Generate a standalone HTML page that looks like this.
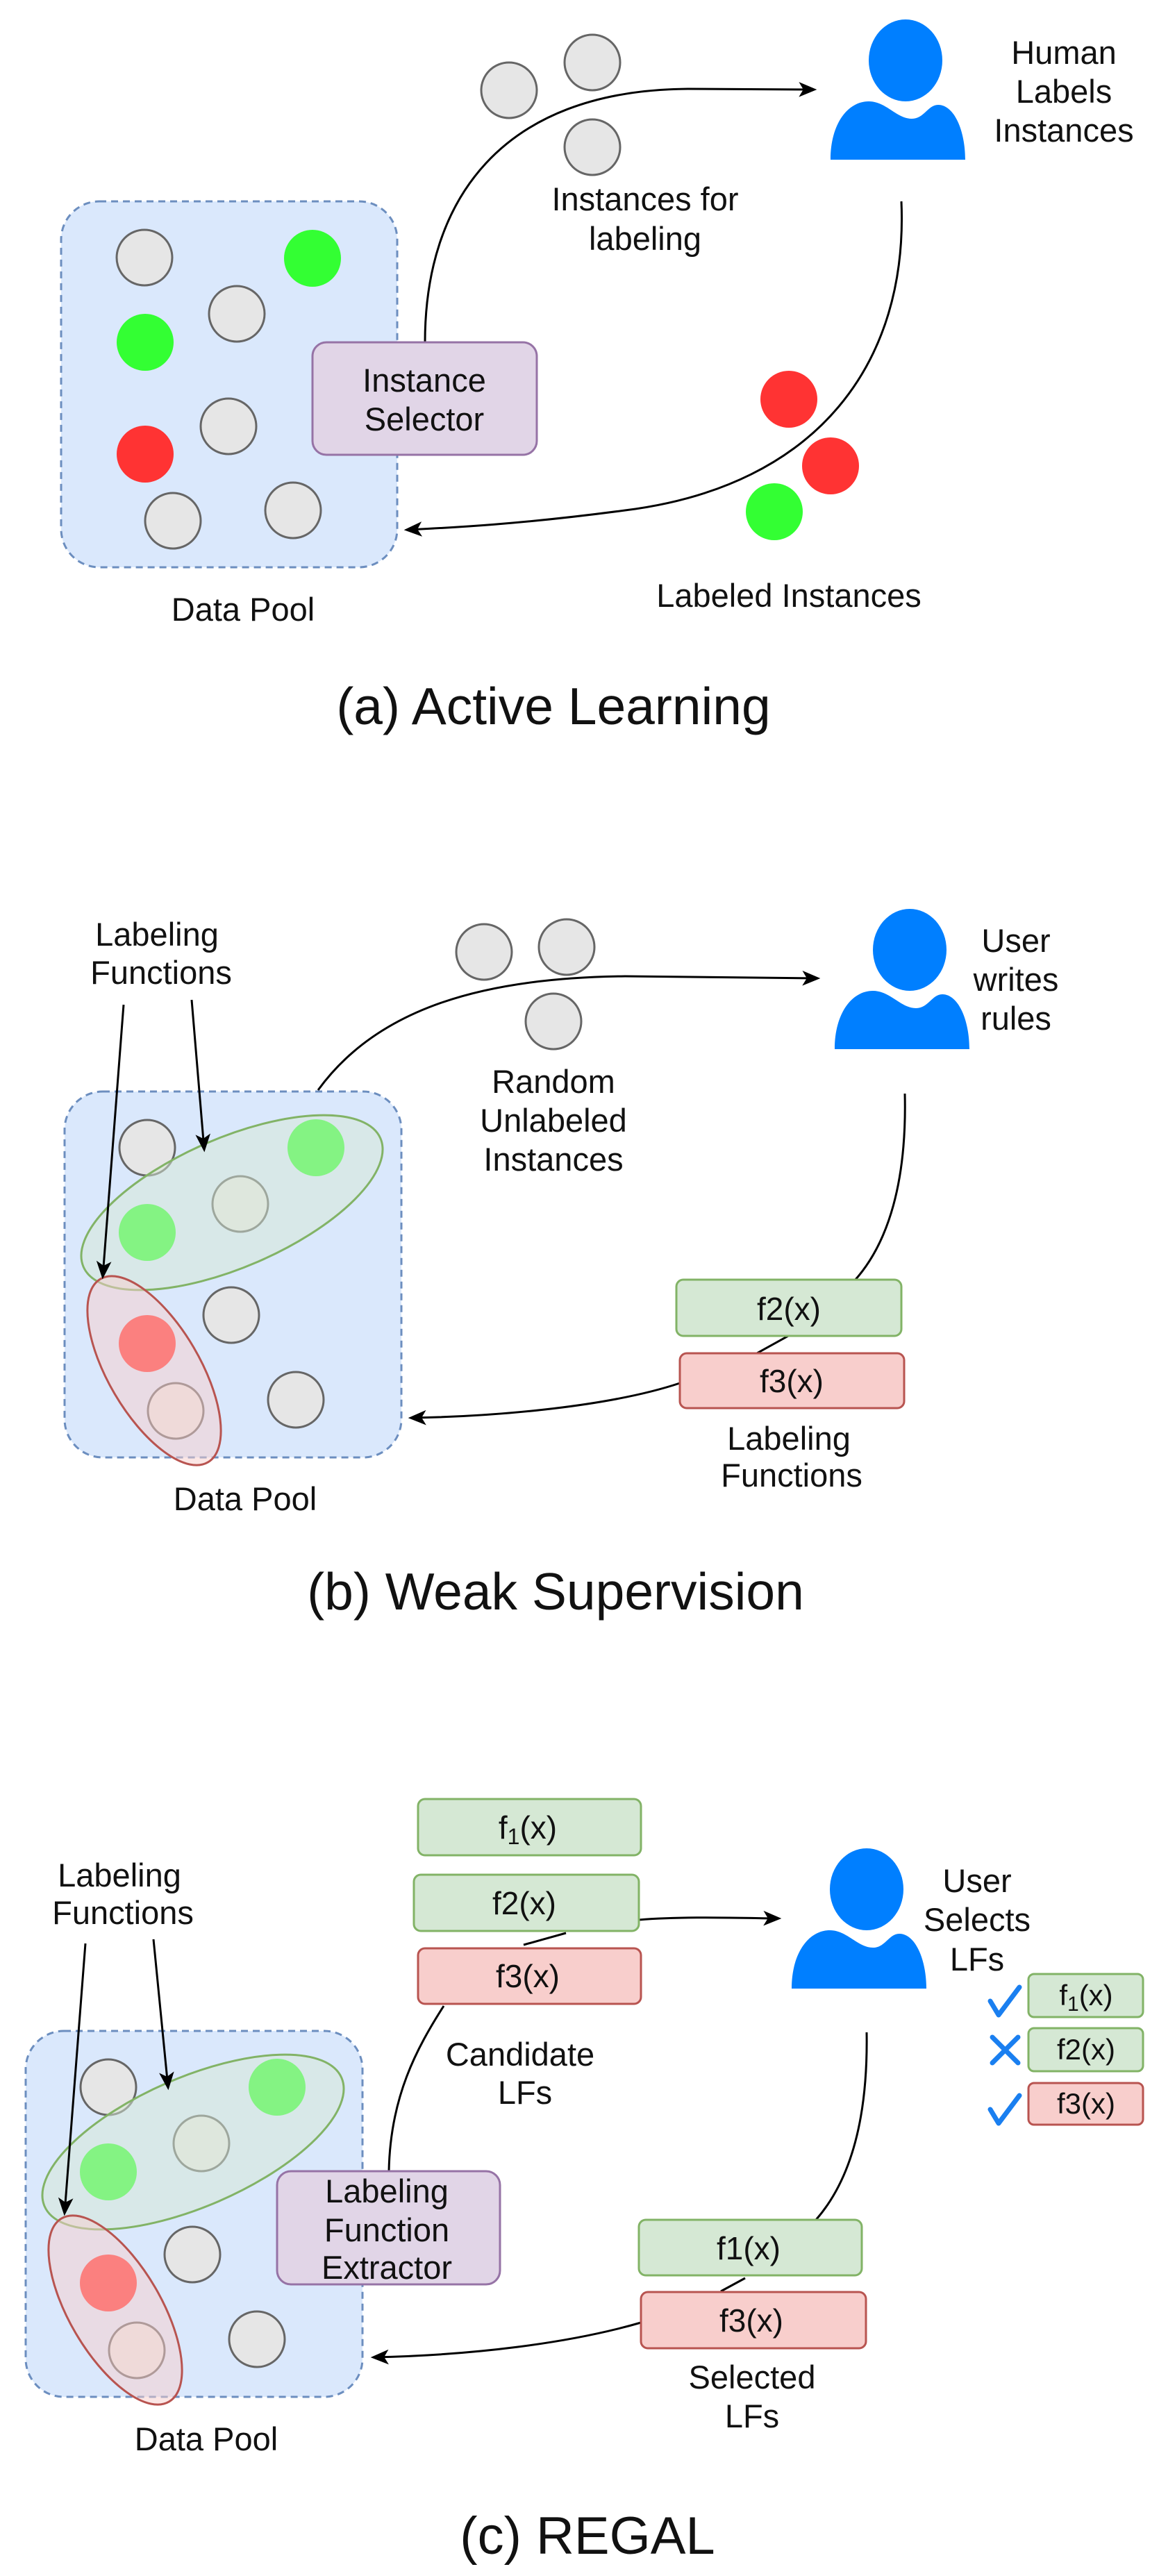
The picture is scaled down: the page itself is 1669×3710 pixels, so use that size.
<!DOCTYPE html>
<html><head><meta charset="utf-8"><style>
html,body{margin:0;padding:0;background:#fff}
svg{display:block}
text{font-family:"Liberation Sans",Arial,sans-serif;fill:#111}
</style></head><body>
<svg width="1669" height="3710" viewBox="0 0 1669 3710" xmlns="http://www.w3.org/2000/svg">
<defs>
<marker id="ar" viewBox="0 0 12 10" refX="10" refY="5" markerWidth="26" markerHeight="22" markerUnits="userSpaceOnUse" orient="auto">
<path d="M0,0 L12,5 L0,10 L3,5 Z" fill="#000"/>
</marker>
<g id="person" fill="#007fff">
<ellipse cx="108" cy="59" rx="53" ry="59"/>
<path d="M0,202 C0,150 25,118 55,118 C80,118 95,143 117,143 C135,143 140,123 155,123 C178,123 194,160 194,202 Z"/>
</g>
</defs>

<!-- ============ (a) Active Learning ============ -->
<rect x="88" y="290" width="484" height="527" rx="55" fill="#dae8fc" stroke="#6c8ebf" stroke-width="3" stroke-dasharray="10 7"/>
<g stroke="#666" stroke-width="3" fill="#e6e6e6">
<circle cx="208" cy="371" r="40"/>
<circle cx="341" cy="452" r="40"/>
<circle cx="329" cy="614" r="40"/>
<circle cx="249" cy="750" r="40"/>
<circle cx="422" cy="735" r="40"/>
<circle cx="733" cy="130" r="40"/>
<circle cx="853" cy="90" r="40"/>
<circle cx="853" cy="212" r="40"/>
</g>
<g>
<circle cx="450" cy="372" r="41" fill="#33ff33"/>
<circle cx="209" cy="493" r="41" fill="#33ff33"/>
<circle cx="209" cy="654" r="41" fill="#ff3333"/>
<circle cx="1136" cy="575" r="41" fill="#ff3333"/>
<circle cx="1196" cy="671" r="41" fill="#ff3333"/>
<circle cx="1115" cy="737" r="41" fill="#33ff33"/>
</g>
<path d="M612,493 C612,290 720,130 990,128 L1172,129" fill="none" stroke="#000" stroke-width="3" marker-end="url(#ar)"/>
<path d="M1298,290 C1308,520 1180,700 900,735 C750,755 650,760 586,763" fill="none" stroke="#000" stroke-width="3" marker-end="url(#ar)"/>
<rect x="450" y="493" width="323" height="162" rx="20" fill="#e1d5e7" stroke="#9673a6" stroke-width="3"/>
<text x="611" y="564" font-size="47" text-anchor="middle">Instance</text>
<text x="611" y="620" font-size="47" text-anchor="middle">Selector</text>
<use href="#person" transform="translate(1196,28)"/>
<text x="1532" y="92" font-size="47" text-anchor="middle">Human</text>
<text x="1532" y="148" font-size="47" text-anchor="middle">Labels</text>
<text x="1532" y="204" font-size="47" text-anchor="middle">Instances</text>
<text x="929" y="303" font-size="47" text-anchor="middle">Instances for</text>
<text x="929" y="360" font-size="47" text-anchor="middle">labeling</text>
<text x="1136" y="874" font-size="47" text-anchor="middle">Labeled Instances</text>
<text x="350" y="894" font-size="47" text-anchor="middle">Data Pool</text>
<text x="797" y="1043" font-size="75" text-anchor="middle">(a) Active Learning</text>

<!-- ============ (b) Weak Supervision ============ -->
<g id="poolb">
<rect x="93" y="1572" width="485" height="527" rx="55" fill="#dae8fc" stroke="#6c8ebf" stroke-width="3" stroke-dasharray="10 7"/>
<g stroke="#666" stroke-width="3" fill="#e6e6e6">
<circle cx="212" cy="1653" r="40"/>
<circle cx="346" cy="1734" r="40"/>
<circle cx="333" cy="1894" r="40"/>
<circle cx="253" cy="2032" r="40"/>
<circle cx="426" cy="2016" r="40"/>
</g>
<circle cx="455" cy="1653" r="41" fill="#33ff33"/>
<circle cx="212" cy="1775" r="41" fill="#33ff33"/>
<circle cx="212" cy="1935" r="41" fill="#ff3333"/>
<ellipse cx="334" cy="1732" rx="233" ry="93" transform="rotate(-23.4 334 1732)" fill="#d5e8d4" fill-opacity="0.5" stroke="#82b366" stroke-width="3"/>
<ellipse cx="222" cy="1974" rx="153" ry="66" transform="rotate(59.6 222 1974)" fill="#f8cecc" fill-opacity="0.5" stroke="#b85450" stroke-width="3"/>
</g>
<path d="M178,1447 L148,1838" stroke="#000" stroke-width="3" fill="none" marker-end="url(#ar)"/>
<path d="M276,1440 L294,1655" stroke="#000" stroke-width="3" fill="none" marker-end="url(#ar)"/>
<text x="226" y="1362" font-size="47" text-anchor="middle">Labeling</text>
<text x="232" y="1417" font-size="47" text-anchor="middle">Functions</text>
<g stroke="#666" stroke-width="3" fill="#e6e6e6">
<circle cx="697" cy="1371" r="40"/>
<circle cx="816" cy="1364" r="40"/>
<circle cx="797" cy="1471" r="40"/>
</g>
<path d="M458,1570 C545,1450 700,1408 900,1406 L1177,1409" fill="none" stroke="#000" stroke-width="3" marker-end="url(#ar)"/>
<text x="797" y="1574" font-size="47" text-anchor="middle">Random</text>
<text x="797" y="1630" font-size="47" text-anchor="middle">Unlabeled</text>
<text x="797" y="1686" font-size="47" text-anchor="middle">Instances</text>
<use href="#person" transform="translate(1202,1309)"/>
<text x="1463" y="1371" font-size="47" text-anchor="middle">User</text>
<text x="1463" y="1427" font-size="47" text-anchor="middle">writes</text>
<text x="1463" y="1483" font-size="47" text-anchor="middle">rules</text>
<path d="M1303,1575 C1306,1700 1280,1790 1230,1845" fill="none" stroke="#000" stroke-width="3"/>
<path d="M1135,1924 L1088,1950" fill="none" stroke="#000" stroke-width="3"/>
<path d="M979,1992 C880,2025 720,2040 592,2042" fill="none" stroke="#000" stroke-width="3" marker-end="url(#ar)"/>
<rect x="974" y="1843" width="324" height="81" rx="10" fill="#d5e8d4" stroke="#82b366" stroke-width="3"/>
<text x="1136" y="1901" font-size="46" text-anchor="middle">f2(x)</text>
<rect x="979" y="1949" width="323" height="79" rx="10" fill="#f8cecc" stroke="#b85450" stroke-width="3"/>
<text x="1140" y="2005" font-size="46" text-anchor="middle">f3(x)</text>
<text x="1136" y="2088" font-size="47" text-anchor="middle">Labeling</text>
<text x="1140" y="2141" font-size="47" text-anchor="middle">Functions</text>
<text x="353" y="2175" font-size="47" text-anchor="middle">Data Pool</text>
<text x="800" y="2318" font-size="75" text-anchor="middle">(b) Weak Supervision</text>

<!-- ============ (c) REGAL ============ -->
<use href="#poolb" transform="translate(-56,1353)"/>
<path d="M123,2799 L93,3187" stroke="#000" stroke-width="3" fill="none" marker-end="url(#ar)"/>
<path d="M221,2793 L242,3006" stroke="#000" stroke-width="3" fill="none" marker-end="url(#ar)"/>
<text x="172" y="2717" font-size="47" text-anchor="middle">Labeling</text>
<text x="177" y="2771" font-size="47" text-anchor="middle">Functions</text>

<path d="M639,2889 C600,2950 562,3020 560,3127" fill="none" stroke="#000" stroke-width="3"/>
<path d="M815,2784 L754,2801" fill="none" stroke="#000" stroke-width="3"/>
<path d="M920,2765 C980,2760 1050,2762 1121,2763" fill="none" stroke="#000" stroke-width="3" marker-end="url(#ar)"/>
<rect x="602" y="2591" width="321" height="81" rx="10" fill="#d5e8d4" stroke="#82b366" stroke-width="3"/>
<text x="760" y="2648" font-size="46" text-anchor="middle">f<tspan font-size="32" dy="8">1</tspan><tspan dy="-8">(x)</tspan></text>
<rect x="596" y="2700" width="324" height="81" rx="10" fill="#d5e8d4" stroke="#82b366" stroke-width="3"/>
<text x="755" y="2757" font-size="46" text-anchor="middle">f2(x)</text>
<rect x="602" y="2806" width="321" height="80" rx="10" fill="#f8cecc" stroke="#b85450" stroke-width="3"/>
<text x="760" y="2862" font-size="46" text-anchor="middle">f3(x)</text>
<text x="749" y="2975" font-size="47" text-anchor="middle">Candidate</text>
<text x="756" y="3030" font-size="47" text-anchor="middle">LFs</text>
<rect x="399" y="3127" width="321" height="163" rx="20" fill="#e1d5e7" stroke="#9673a6" stroke-width="3"/>
<text x="557" y="3172" font-size="47" text-anchor="middle">Labeling</text>
<text x="557" y="3228" font-size="47" text-anchor="middle">Function</text>
<text x="557" y="3282" font-size="47" text-anchor="middle">Extractor</text>

<use href="#person" transform="translate(1140,2662)"/>
<text x="1407" y="2725" font-size="47" text-anchor="middle">User</text>
<text x="1407" y="2781" font-size="47" text-anchor="middle">Selects</text>
<text x="1407" y="2838" font-size="47" text-anchor="middle">LFs</text>

<rect x="1481" y="2843" width="165" height="62" rx="8" fill="#d5e8d4" stroke="#82b366" stroke-width="3"/>
<text x="1564" y="2888" font-size="42" text-anchor="middle">f<tspan font-size="30" dy="8">1</tspan><tspan dy="-8">(x)</tspan></text>
<rect x="1481" y="2921" width="165" height="62" rx="8" fill="#d5e8d4" stroke="#82b366" stroke-width="3"/>
<text x="1564" y="2966" font-size="42" text-anchor="middle">f2(x)</text>
<rect x="1481" y="3000" width="165" height="60" rx="8" fill="#f8cecc" stroke="#b85450" stroke-width="3"/>
<text x="1564" y="3044" font-size="42" text-anchor="middle">f3(x)</text>
<g stroke="#1a7ff0" stroke-width="7" fill="none" stroke-linecap="round" stroke-linejoin="round">
<path d="M1426,2882 L1438,2902 L1468,2862"/>
<path d="M1429,2934 L1466,2971 M1466,2934 L1429,2971"/>
<path d="M1426,3038 L1438,3058 L1468,3018"/>
</g>

<path d="M1248,2927 C1250,3050 1225,3140 1175,3197" fill="none" stroke="#000" stroke-width="3"/>
<path d="M1073,3281 L1038,3300" fill="none" stroke="#000" stroke-width="3"/>
<path d="M923,3345 C820,3375 680,3392 538,3395" fill="none" stroke="#000" stroke-width="3" marker-end="url(#ar)"/>
<rect x="920" y="3197" width="321" height="80" rx="10" fill="#d5e8d4" stroke="#82b366" stroke-width="3"/>
<text x="1078" y="3254" font-size="46" text-anchor="middle">f1(x)</text>
<rect x="923" y="3301" width="324" height="81" rx="10" fill="#f8cecc" stroke="#b85450" stroke-width="3"/>
<text x="1082" y="3358" font-size="46" text-anchor="middle">f3(x)</text>
<text x="1083" y="3440" font-size="47" text-anchor="middle">Selected</text>
<text x="1083" y="3496" font-size="47" text-anchor="middle">LFs</text>
<text x="297" y="3529" font-size="47" text-anchor="middle">Data Pool</text>
<text x="846" y="3678" font-size="76" text-anchor="middle">(c) REGAL</text>
</svg>
</body></html>
